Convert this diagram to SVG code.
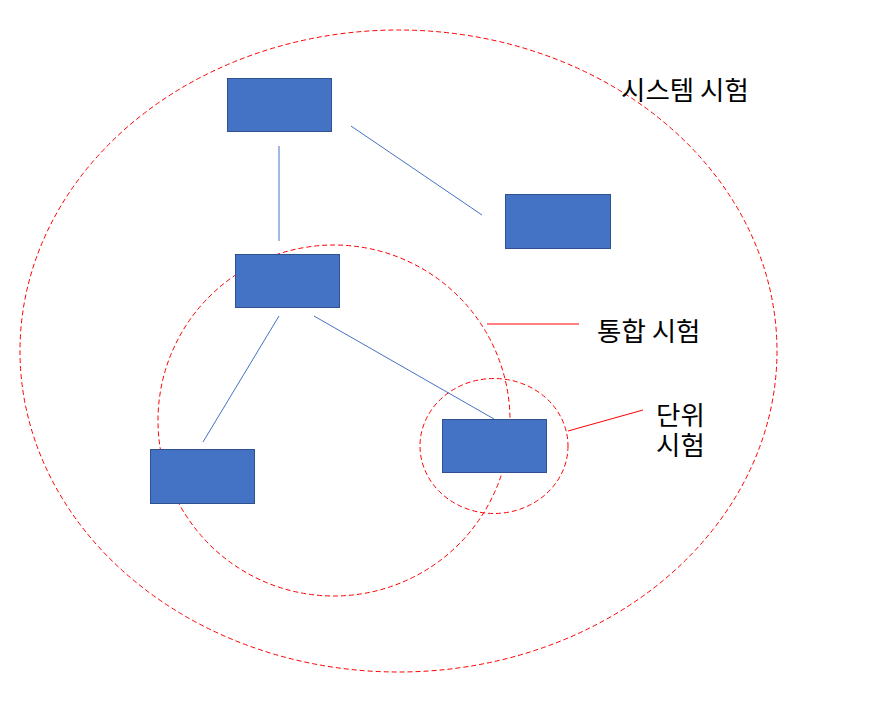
<svg xmlns="http://www.w3.org/2000/svg" width="880" height="720" viewBox="0 0 880 720">
<style>
.box{fill:#4472C4;stroke:#2F528F;stroke-width:1}
.conn{stroke:#4472C4;stroke-width:1;fill:none}
.scope{fill:none;stroke:#FF0000;stroke-width:1;stroke-dasharray:5 3}
.lead{stroke:#FF0000;stroke-width:1;fill:none}
.lbl{font-family:"Noto Sans CJK KR","Noto Sans",sans-serif;font-size:26.5px;fill:#000}
</style>
<rect width="880" height="720" fill="#fff"/>
<g id="scopes">
<ellipse class="scope" cx="398.5" cy="351" rx="378.5" ry="321"/>
<ellipse class="scope" cx="334" cy="420.5" rx="176" ry="175.5"/>
<ellipse class="scope" cx="494" cy="446" rx="74" ry="67.5"/>
</g>
<g id="connectors">
<line class="conn" x1="279" y1="146" x2="279" y2="241"/>
<line class="conn" x1="351" y1="126" x2="482" y2="215"/>
<line class="conn" x1="279" y1="316" x2="203" y2="442"/>
<line class="conn" x1="314" y1="316" x2="494" y2="419"/>
<line class="lead" x1="487" y1="324" x2="579" y2="324"/>
<line class="lead" x1="568" y1="431" x2="643" y2="410"/>
</g>
<g id="n1"><rect class="box" x="227.5" y="78.5" width="104" height="53"/></g>
<g id="n2"><rect class="box" x="505.5" y="194.5" width="105" height="54"/></g>
<g id="n3"><rect class="box" x="235.5" y="254.5" width="104" height="53"/></g>
<g id="n4"><rect class="box" x="150.5" y="449.5" width="104" height="54"/></g>
<g id="n5"><rect class="box" x="442.5" y="419.5" width="104" height="53"/></g>
<g id="labels">
<text class="lbl" x="621" y="100">시스템 시험</text>
<text class="lbl" x="597" y="341">통합 시험</text>
<text class="lbl"><tspan x="656" y="425">단위</tspan><tspan x="656" y="455">시험</tspan></text>
</g>
</svg>
